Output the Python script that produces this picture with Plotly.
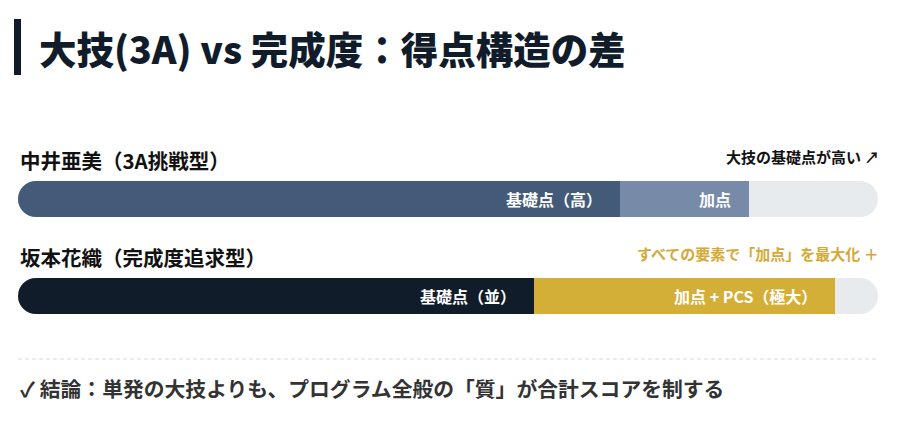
import plotly.graph_objects as go

# data
players      = ["中井亜美（3A挑戦型）", "坂本花織（完成度追求型）"]
base_values  = [70, 60]
bonus_values = [15, 35]
base_labels  = ["基礎点（高）", "基礎点（並）"]
bonus_labels = ["加点", "加点 + PCS（極大）"]
notes        = ["大技の基礎点が高い ↗", "すべての要素で「加点」を最大化 ＋"]
track_max    = 100
title_text   = "大技(3A) vs 完成度：得点構造の差"
conclusion   = "✓ 結論：単発の大技よりも、プログラム全般の「質」が合計スコアを制する"

# layout / style (coordinates below are page pixels; the page body adds an 8px margin)
W, H = 899, 426
OFF = 8
row_y = [199, 296]
bar_h = 36
base_colors  = ["#435a78", "#111c2b"]
bonus_colors = ["#778ba8", "#d4af37"]
note_colors  = ["#111111", "#d4a937"]
track_color  = "#e8ebee"
FONT = "Noto Sans CJK JP"

fig = go.Figure()

# background track, split in two so both ends get rounded
half = track_max / 2
for sign in (-1, 1):
    fig.add_trace(go.Bar(orientation="h", y=row_y, x=[sign*half]*2, base=[half]*2, width=bar_h,
                         marker=dict(color=track_color, cornerradius=bar_h/2, line_width=0),
                         hoverinfo="skip"))
# base points: rounded bar, then square right half on top so only the left end stays round
fig.add_trace(go.Bar(orientation="h", y=row_y, x=base_values, base=[0]*2,
                     width=bar_h, marker=dict(color=base_colors, cornerradius=bar_h/2, line_width=0),
                     hoverinfo="skip"))
fig.add_trace(go.Bar(orientation="h", y=row_y, x=[v/2 for v in base_values], base=[v/2 for v in base_values],
                     width=bar_h, marker=dict(color=base_colors, cornerradius=0, line_width=0),
                     hoverinfo="skip"))
# bonus points
fig.add_trace(go.Bar(orientation="h", y=row_y, x=bonus_values, base=base_values,
                     width=bar_h, marker=dict(color=bonus_colors, cornerradius=0, line_width=0),
                     hoverinfo="skip"))

ann = []
for i in range(len(players)):
    ann.append(dict(x=0, y=row_y[i]-39, text=players[i], xanchor="left", yanchor="middle",
                    showarrow=False, font=dict(family=FONT, size=20.5, color="#111111", weight=700)))
    ann.append(dict(x=track_max, y=row_y[i]-43, text=notes[i], xanchor="right", yanchor="middle",
                    xshift=3, showarrow=False, font=dict(family=FONT, size=15, color=note_colors[i], weight=700)))
    ann.append(dict(x=base_values[i], y=row_y[i], text=base_labels[i], xanchor="right", yanchor="middle",
                    xshift=-16, showarrow=False, font=dict(family=FONT, size=16, color="white", weight=700)))
    ann.append(dict(x=base_values[i]+bonus_values[i], y=row_y[i], text=bonus_labels[i], xanchor="right",
                    yanchor="middle", xshift=-16, showarrow=False,
                    font=dict(family=FONT, size=16, color="white", weight=700)))

# title
ann.append(dict(xref="paper", x=(37-OFF)/W, y=47, text=title_text, xanchor="left", yanchor="middle",
                showarrow=False, font=dict(family=FONT, size=37.5, color="#111c2b", weight=900)))
# conclusion
ann.append(dict(x=0, y=388, text=conclusion, xanchor="left", yanchor="middle", showarrow=False,
                font=dict(family=FONT, size=20.8, color="#333333", weight=700)))

shapes = [
    dict(type="rect", xref="paper", x0=(14-OFF)/W, x1=(21-OFF)/W, y0=19, y1=75, yref="y",
         fillcolor="#111c2b", line_width=0),
    dict(type="line", xref="x", x0=0, x1=track_max, y0=359, y1=359, yref="y",
         line=dict(color="#d9d9d9", width=1.2, dash="4px,3px")),
]

# x axis: 0..100 maps to page pixels 18..878
px = (878 - 18) / track_max
fig.update_layout(
    width=W, height=H, autosize=False,
    margin=dict(l=0, r=0, t=0, b=0),
    paper_bgcolor="white", plot_bgcolor="white",
    barmode="overlay", showlegend=False,
    xaxis=dict(range=[-(18-OFF)/px, track_max + (W+OFF-878)/px], visible=False, fixedrange=True),
    yaxis=dict(range=[H+OFF, OFF], visible=False, fixedrange=True),
    annotations=ann, shapes=shapes,
)

fig.write_html("out.html")
